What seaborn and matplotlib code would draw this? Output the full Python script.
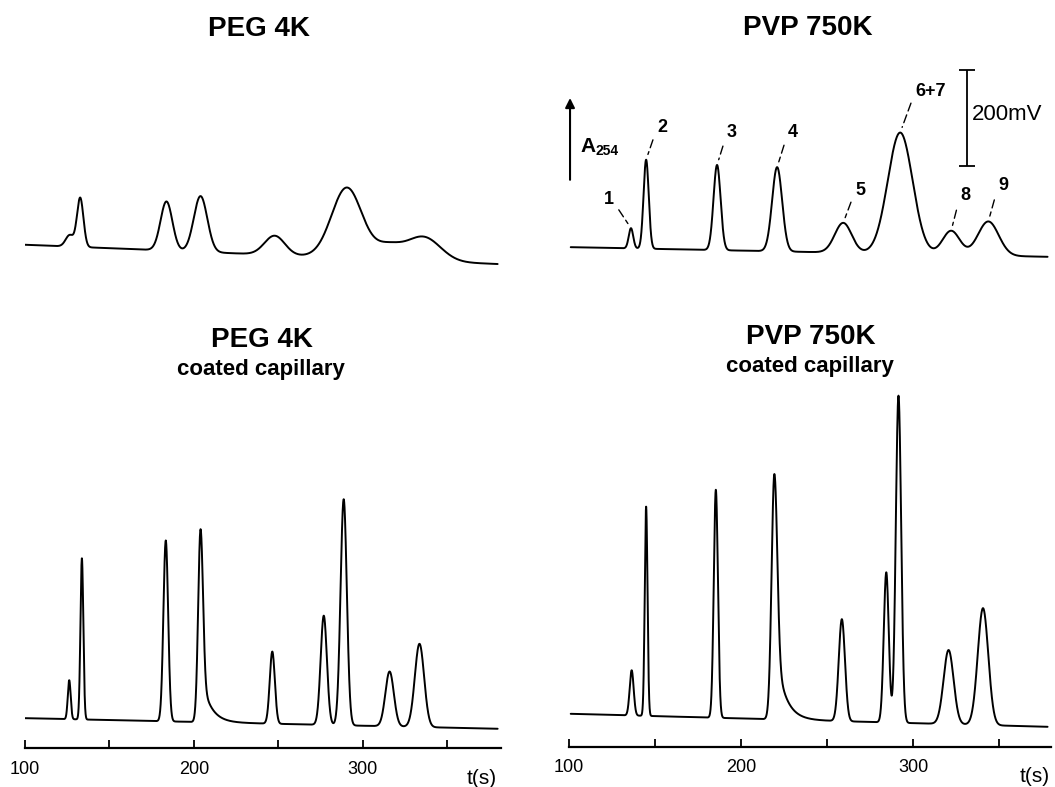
import numpy as np
import seaborn as sns
import matplotlib
matplotlib.use("Agg")
import matplotlib.pyplot as plt

# ---- peak tables (time s, height mV, sigma s) ----
# PEG 4K, bare capillary
peg_times = [126.5, 132.7, 183.8, 204.0, 247.9, 290.7, 315.0, 336.0]
peg_heights = [24, 102, 102, 116, 40, 146, 27, 50]
peg_widths = [2.4, 1.9, 3.5, 4.0, 6.0, 9.0, 8.0, 10.0]
peg_base = [94, 54]

# PVP 750K, bare capillary (peaks 1..9)
pvp_labels = ["1", "2", "3", "4", "5", "6+7", "8", "9"]
pvp_times = [136.0, 144.8, 186.0, 220.9, 259.3, 292.4, 322.0, 343.6]
pvp_heights = [42, 185, 177, 175, 62, 252, 50, 71]
pvp_widths = [1.3, 1.5, 2.05, 2.9, 4.9, 7.2, 5.0, 6.0]
pvp_base = [89, 69]

# PEG 4K, coated capillary
peg_c_times = [126.2, 133.7, 183.4, 204.0, 246.5, 277.0, 288.8, 316.0, 333.7]
peg_c_heights = [81, 335, 376, 401, 150, 227, 470, 114, 173]
peg_c_widths = [0.85, 0.85, 1.4, 1.4, 1.5, 1.85, 1.85, 2.5, 2.75]
peg_c_tail = [0, 0, 0, 105, 0, 0, 0, 0, 0]
peg_c_base = [62, 40]

# PVP 750K, coated capillary
pvp_c_times = [136.4, 144.8, 185.3, 219.3, 258.5, 284.3, 291.4, 320.5, 340.5]
pvp_c_heights = [94, 435, 474, 510, 212, 312, 680, 154, 243]
pvp_c_widths = [1.15, 0.8, 1.2, 1.6, 1.8, 1.45, 1.55, 2.9, 3.05]
pvp_c_tail = [0, 0, 0, 170, 0, 0, 0, 0, 0]
pvp_c_base = [69, 42]

TAU = 5.3  # decay of the tailing peaks (s)
W, H = 1055, 787


def fx(px):
    return px / W


def fy(py):
    return 1 - py / H


def trace(t, times, heights, widths, base, tails=None):
    y = np.interp(t, [t[0], t[-1]], base)
    tails = tails or [0] * len(times)
    for t0, h, s, th in zip(times, heights, widths, tails):
        d = t - t0
        y = y + h * np.exp(-0.5 * (d / s) ** 2)
        if th:
            tail = th * np.exp(-np.clip(d, 0, None) / TAU) * (1 - np.exp(-0.5 * (d / s) ** 2))
            y = y + np.where(d > 0, tail, 0)
    return y


sns.set_theme(style="ticks")
plt.rcParams["font.family"] = ["Liberation Sans", "DejaVu Sans"]
plt.rcParams["text.color"] = "black"
plt.rcParams["xtick.color"] = "black"

fig = plt.figure(figsize=(W / 100, H / 100), dpi=100)

t = np.arange(100, 380.001, 0.05)
t_r = np.arange(101, 378.001, 0.05)

# axes boxes placed in pixels
ax_tl = fig.add_axes([fx(25), fy(290), fx(501) - fx(25), (290 - 60) / H])
ax_tr = fig.add_axes([fx(569), fy(290), fx(1051) - fx(569), (290 - 60) / H])
ax_bl = fig.add_axes([fx(25), fy(748), fx(501) - fx(25), (748 - 380) / H])
ax_br = fig.add_axes([fx(569), fy(747), fx(1051) - fx(569), (747 - 380) / H])

y_tl = trace(t, peg_times, peg_heights, peg_widths, peg_base)
y_tr = trace(t_r, pvp_times, pvp_heights, pvp_widths, pvp_base)
y_bl = trace(t, peg_c_times, peg_c_heights, peg_c_widths, peg_c_base, peg_c_tail)
y_br = trace(t_r, pvp_c_times, pvp_c_heights, pvp_c_widths, pvp_c_base, pvp_c_tail)

for ax, tt, yy, xmax, ytop in [(ax_tl, t, y_tl, 382, 478), (ax_tr, t_r, y_tr, 380, 478),
                               (ax_bl, t, y_bl, 382, 765), (ax_br, t_r, y_br, 380, 763)]:
    sns.lineplot(x=tt, y=yy, ax=ax, color="black", linewidth=1.4)
    ax.set_xlim(100, xmax)
    ax.set_ylim(0, ytop)
    ax.set_xlabel("")
    ax.set_ylabel("")

for ax in (ax_tl, ax_tr):
    ax.axis("off")

for ax in (ax_bl, ax_br):
    sns.despine(ax=ax, left=True)
    ax.spines["bottom"].set_color("black")
    ax.spines["bottom"].set_linewidth(1.6)
    ax.set_yticks([])
    ax.set_xticks([100, 200, 300])
    ax.set_xticks([150, 250, 350], minor=True)
    ax.tick_params(axis="x", which="both", direction="in", length=6, width=1.3,
                   color="black", labelsize=13, pad=9, labelcolor="black")

# titles
fig.text(fx(259), fy(36), "PEG 4K", ha="center", va="baseline", fontsize=20, weight="bold")
fig.text(fx(808), fy(35), "PVP 750K", ha="center", va="baseline", fontsize=20, weight="bold")
fig.text(fx(262), fy(347), "PEG 4K", ha="center", va="baseline", fontsize=20, weight="bold")
fig.text(fx(261), fy(375), "coated capillary", ha="center", va="baseline", fontsize=16, weight="bold")
fig.text(fx(811), fy(344), "PVP 750K", ha="center", va="baseline", fontsize=20, weight="bold")
fig.text(fx(810), fy(372), "coated capillary", ha="center", va="baseline", fontsize=16, weight="bold")

fig.text(fx(467), fy(778), "t(s)", ha="left", va="center", fontsize=15)
fig.text(fx(1020), fy(777), "t(s)", ha="left", va="center", fontsize=15)

# absorbance arrow and scale bar on the PVP panel
ax_tr.annotate("", xy=(100.6, 399), xytext=(100.6, 229),
               arrowprops=dict(arrowstyle="-|>", color="black", lw=1.5, mutation_scale=14,
                               shrinkA=0, shrinkB=0))
fig.text(fx(580), fy(152), "A", ha="left", va="baseline", fontsize=15, weight="bold")
fig.text(fx(596), fy(155), "254", ha="left", va="baseline", fontsize=10, weight="bold")

ax_tr.errorbar(x=331.4, y=358, yerr=100, fmt="none", ecolor="black",
               elinewidth=1.3, capsize=6, capthick=1.3)
ax_tr.text(334.3, 364, "200mV", ha="left", va="center", fontsize=16)

# peak labels with dashed leaders (offsets in pixels from the peak top)
offsets = [(-17, 29), (11, 32), (10, 32), (11, 35), (12, 32), (15, 41), (9, 35), (10, 36)]
for lab, t0, (dx, dy) in zip(pvp_labels, pvp_times, offsets):
    top = np.interp(t0, t_r, y_tr)
    left = dx > 0
    ax_tr.annotate(lab, xy=(t0, top), xytext=(dx, dy), textcoords="offset pixels",
                   ha="left" if left else "right", va="center", fontsize=13, weight="bold",
                   arrowprops=dict(arrowstyle="-", color="black", lw=1.0,
                                   linestyle=(0, (6, 3)), shrinkA=2, shrinkB=4,
                                   relpos=(0, 0.5) if left else (1, 0.3)))

fig.savefig("out.png", dpi=100)
